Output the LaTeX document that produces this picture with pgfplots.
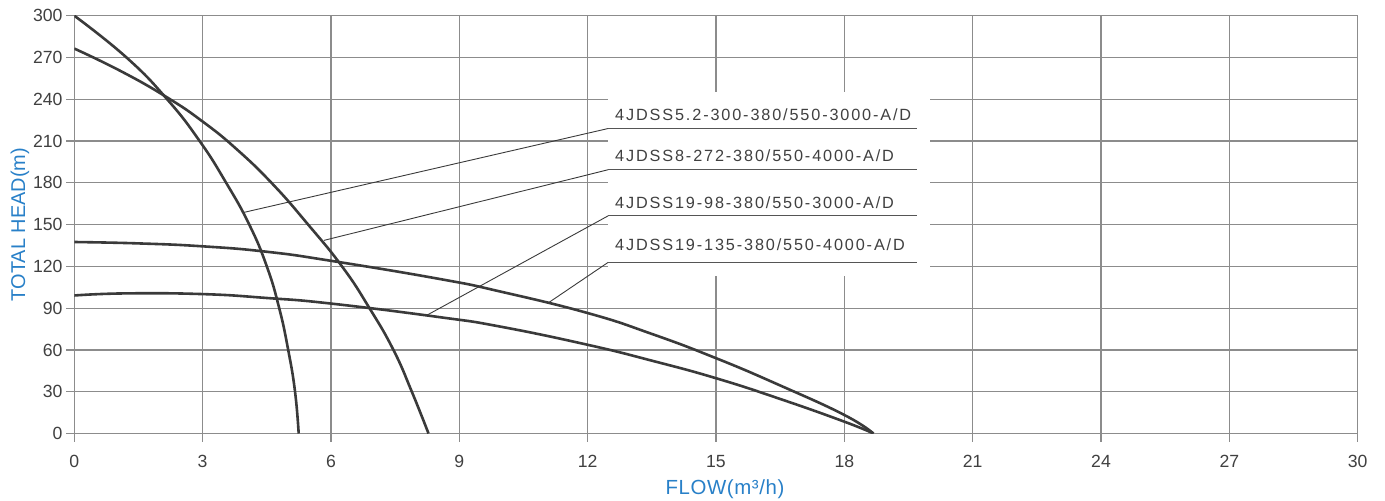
\documentclass[border=0pt]{standalone}
\usepackage{fontspec}
\setmainfont{Liberation Sans}
\newfontfamily\lblfont[LetterSpace=11.5]{Liberation Sans}
\newfontfamily\axlblfont[LetterSpace=3]{Liberation Sans}
\usepackage{pgfplots}
\pgfplotsset{compat=1.18}
\definecolor{gridgray}{RGB}{140,140,140}
\definecolor{curvegray}{RGB}{58,58,58}
\definecolor{ulgray}{RGB}{85,85,85}
\definecolor{ticktext}{RGB}{64,64,64}
\definecolor{titleblue}{RGB}{40,128,200}
\begin{document}
\begin{tikzpicture}
\begin{axis}[
  at={(0,0)}, anchor=south west,
  scale only axis, width=1283.4bp, height=417.8bp,
  xmin=0, xmax=30, ymin=0, ymax=300,
  xtick={0,3,...,30}, ytick={0,30,...,300},
  grid=major, major grid style={gridgray, line width=1.2bp},
  axis line style={gridgray, line width=1.2bp},
  tick align=outside, major tick length=8bp,
  tick style={gridgray, line width=1.2bp},
  xtick pos=bottom, ytick pos=left,
  /pgf/number format/assume math mode=true,
  ticklabel style={font=\fontsize{17.7}{20}\selectfont, text=ticktext},
  yticklabel style={anchor=east, inner sep=0pt, xshift=-3.6bp},
  xticklabel style={anchor=north, inner sep=0pt, yshift=-13.5bp},
  xlabel={FLOW(m³/h)}, ylabel={TOTAL HEAD(m)},
  every axis x label/.style={at={(axis description cs:0.507,-0.1328)}, anchor=center, font=\axlblfont\fontsize{20.5}{24}\selectfont, text=titleblue},
  every axis y label/.style={at={(axis description cs:-0.0423,0.5)}, rotate=90, anchor=center, font=\fontsize{20}{24}\selectfont, text=titleblue},
]
\addplot[draw=none, fill=white] coordinates {(12.48,113.3) (20.0,113.3) (20.0,245) (12.48,245)} -- cycle;

% 4JDSS5.2-300
\addplot[curvegray, line width=2.6bp, smooth, tension=0.8] coordinates {
(0,300) (1.22,270) (2.17,240) (2.93,210) (3.55,180) (4.09,150) (4.5,120) (4.79,90) (5.0,60) (5.16,30) (5.245,0)};
% 4JDSS8-272
\addplot[curvegray, line width=2.6bp, smooth, tension=0.8] coordinates {
(0,276.4) (1.1,260) (2.16,241.5) (3,224) (3.8,204) (4.64,179) (5.45,150.6) (6.27,119.5) (6.9,90) (7.46,60) (7.89,30) (8.28,0)};
% 4JDSS19-135
\addplot[curvegray, line width=2.6bp, smooth, tension=0.8] coordinates {
(0,137.5) (1.5,136.5) (3,134.4) (4.5,130.5) (6,124) (8.55,110.9) (9.95,102) (12,86.5) (13.5,71.5) (15,54.1) (16.5,34.5) (18,13.3) (18.68,0)};
% 4JDSS19-98
\addplot[curvegray, line width=2.6bp, smooth, tension=0.8] coordinates {
(0,99.1) (1.2,100.6) (3,100.1) (4.5,97.3) (6,93.3) (8.55,83.5) (9.95,76.8) (12,63.7) (13.5,52.3) (15,39.7) (16.5,24.8) (18,8.5) (18.68,0)};

% leaders
\addplot[curvegray, line width=0.9bp] coordinates {(3.97,158.8) (12.48,219.0)};
\addplot[curvegray, line width=0.9bp] coordinates {(5.84,138.7) (12.48,189.4)};
\addplot[curvegray, line width=0.9bp] coordinates {(8.24,84.9) (12.48,156.3)};
\addplot[curvegray, line width=0.9bp] coordinates {(11.08,93.8) (12.48,122.9)};
% underlines
\addplot[ulgray, line width=1.2bp] coordinates {(12.48,219.0) (19.71,219.0)};
\addplot[ulgray, line width=1.2bp] coordinates {(12.48,189.4) (19.71,189.4)};
\addplot[ulgray, line width=1.2bp] coordinates {(12.48,156.3) (19.71,156.3)};
\addplot[ulgray, line width=1.2bp] coordinates {(12.48,122.9) (19.71,122.9)};

\node[anchor=base west, inner sep=0pt, font=\lblfont\fontsize{16.3}{18}\selectfont, text=ticktext] at (axis cs:12.64,225.1) {4JDSS5.2-300-380/550-3000-A/D};
\node[anchor=base west, inner sep=0pt, font=\lblfont\fontsize{16.3}{18}\selectfont, text=ticktext] at (axis cs:12.64,195.6) {4JDSS8-272-380/550-4000-A/D};
\node[anchor=base west, inner sep=0pt, font=\lblfont\fontsize{16.3}{18}\selectfont, text=ticktext] at (axis cs:12.64,161.7) {4JDSS19-98-380/550-3000-A/D};
\node[anchor=base west, inner sep=0pt, font=\lblfont\fontsize{16.3}{18}\selectfont, text=ticktext] at (axis cs:12.64,131.2) {4JDSS19-135-380/550-4000-A/D};
\end{axis}
\pgfresetboundingbox
\path[use as bounding box] (-74.3bp,-67.5bp) rectangle (1310.7bp,433.5bp);
\end{tikzpicture}
\end{document}
